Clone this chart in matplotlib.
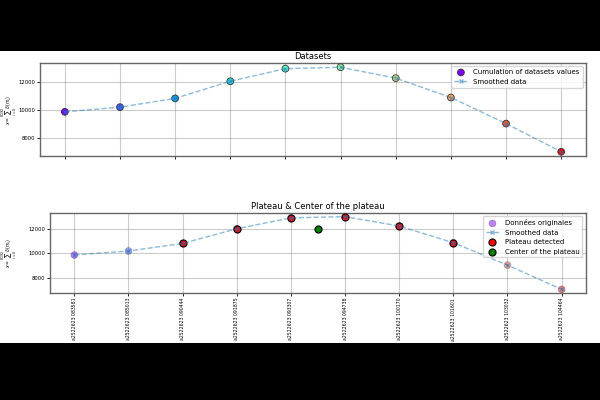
import numpy as np
import matplotlib
matplotlib.use('Agg')
import matplotlib.pyplot as plt
from matplotlib.patches import Rectangle

# data
labels = ['a2522623 083581', 'a2522623 085013', 'a2522623 090444', 'a2522623 091875',
          'a2522623 093307', 'a2522623 094738', 'a2522623 100170', 'a2522623 101601',
          'a2522623 103032', 'a2522623 104464']
values = [9870, 10200, 10820, 12030, 12920, 13020, 12250, 10880, 9040, 7050]
plateau_idx = [2, 3, 4, 5, 6, 7]

ylab = r'$x = \sum_{i=0}^{8192} \delta(m_i)$'

x = np.arange(len(values))
cols = plt.cm.rainbow(np.linspace(0, 1, len(values)))

fig = plt.figure(figsize=(6, 4), dpi=100)
fig.patch.set_facecolor('black')
fig.patches.append(Rectangle((0, 0.1425), 1, 0.73, transform=fig.transFigure,
                             facecolor='white', zorder=-10))

#----------------------------------------------------------------------------------------------------
ax1 = fig.add_axes([0.0667, 0.61, 0.91, 0.2325])
ax1.scatter(x, values, c=cols, s=24, edgecolors='0.2', linewidths=0.6,
            label='Cumulation of datasets values', zorder=3)
ax1.plot(x, values, '--x', color='tab:blue', alpha=0.5, lw=1, ms=3,
         label='Smoothed data', zorder=4)
ax1.set_title('Datasets', fontsize=6, pad=3)
ax1.set_xticks(x)
ax1.legend(loc='upper right', fontsize=5, framealpha=0.8)

#----------------------------------------------------------------------------------------------------
ax2 = fig.add_axes([0.0833, 0.2675, 0.8933, 0.2])
ax2.scatter(x, values, c=cols, s=24, alpha=0.5, edgecolors='0.3', linewidths=0.5,
            label='Données originales', zorder=2)
ax2.plot(x, values, '--x', color='tab:blue', alpha=0.5, lw=1, ms=3,
         label='Smoothed data', zorder=4)
pv = [values[i] for i in plateau_idx]
ax2.scatter(plateau_idx, pv, color='red', s=26, edgecolors='black', linewidths=0.8,
            label='Plateau detected', zorder=3)
ax2.scatter([np.mean(plateau_idx)], [np.mean(pv)], color='green', s=26,
            edgecolors='black', linewidths=0.8, label='Center of the plateau', zorder=3)
ax2.set_title('Plateau & Center of the plateau', fontsize=6, pad=3)
ax2.set_xticks(x)
ax2.legend(loc='upper right', fontsize=5, framealpha=0.8)

for ax in (ax1, ax2):
	ax.grid(True, color='0.6', alpha=0.5, lw=0.8)
	ax.set_yticks([8000, 10000, 12000])
	ax.tick_params(labelsize=3.8, length=2, width=0.6, pad=1.5)
	ax.set_ylabel(ylab, fontsize=3.3)
	for s in ax.spines.values():
		s.set_color('0.4')
		s.set_linewidth(1)

ax1.set_xticklabels([])
ax2.set_xticklabels(labels, rotation=90, fontsize=3.3)
ax1.yaxis.set_label_coords(-0.038, 0.5)
ax2.yaxis.set_label_coords(-0.057, 0.5)

fig.savefig('out.png', dpi=100, facecolor=fig.get_facecolor())
